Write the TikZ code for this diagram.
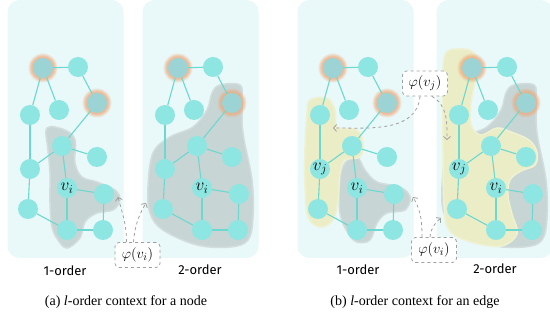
\documentclass[tikz,border=0pt]{standalone}
\usepackage{fontspec}
\setmainfont{Liberation Serif}
\newfontfamily\orderfont{Fira Sans}
\usetikzlibrary{arrows.meta}

\definecolor{panelbg}{HTML}{E9F8F8}
\definecolor{nodec}{HTML}{8DE6E1}
\definecolor{linkc}{HTML}{6BD9CF}
\definecolor{startc}{HTML}{9CD4D5}
\definecolor{haloc}{HTML}{F0A878}
\definecolor{blobgray}{HTML}{C8D5D5}
\definecolor{blobyel}{HTML}{EBEDC6}
\definecolor{dashc}{HTML}{A0A0A0}

\tikzset{
  vert/.style={circle, fill=nodec, minimum size=20pt, inner sep=0pt},
  link/.style={draw=linkc, line width=1.1pt},
  greyblob/.style={fill=blobgray, draw=blobgray!80!white, line width=1.5pt},
  yelblob/.style={fill=blobyel, draw=blobyel!80!white, line width=1.5pt},
  phibox/.style={draw=dashc, dashed, fill=white, rounded corners=4pt, line width=.8pt,
    minimum width=45pt, minimum height=25pt, inner sep=1pt, font=\fontsize{15}{18}\selectfont},
  dasharrow/.style={draw=dashc, dashed, line width=.8pt, -{Straight Barb[length=3pt,width=7pt]}},
  order/.style={font=\orderfont\fontsize{13}{15}\selectfont},
  caption/.style={font=\fontsize{14}{16}\selectfont}
}

% one copy of the graph, #1 = name prefix, #2 = text of the left node
\newcommand{\ctxgraph}[2]{%
  % glow round the two start nodes
  \foreach \r/\o in {14.5/.2,13.5/.25,12.5/.3,11.5/.35} {
    \fill[haloc, opacity=\o] (43,68) circle (\r pt);
    \fill[haloc, opacity=\o] (97,103) circle (\r pt);
  }
  \node[vert, fill=startc] (#1a) at (43,68) {};
  \node[vert] (#1b) at (78,67) {};
  \node[vert, fill=startc] (#1c) at (97,103) {};
  \node[vert] (#1d) at (30,115) {};
  \node[vert] (#1e) at (59,110) {};
  \node[vert] (#1f) at (62,146) {};
  \node[vert] (#1g) at (97,157) {};
  \node[vert, font=\fontsize{17}{18}\selectfont] (#1h) at (30,169) {#2};
  \node[vert, font=\fontsize{17}{18}\selectfont] (#1i) at (67,188) {$v_i$};
  \node[vert] (#1k) at (104,194) {};
  \node[vert] (#1l) at (28,209) {};
  \node[vert] (#1m) at (67,230) {};
  \node[vert] (#1n) at (103,230) {};
  \foreach \s/\t in {a/b,a/d,a/e,b/c,c/f,f/g,f/h,f/i,d/h,h/l,i/k,i/m,k/n,l/m,m/n}
    \draw[link] (#1\s) -- (#1\t);
}

\begin{document}
\begin{tikzpicture}[x=1pt, y=-1pt]
  \useasboundingbox (0,0) rectangle (550,323);

  %draw panels
  \foreach \dx in {0,135,290,429}
    \fill[panelbg, rounded corners=12pt] (\dx+7.5,0) rectangle (\dx+123.5,258);

  % (a) 1-order
  \begin{scope}
    \filldraw[greyblob] plot[smooth cycle, tension=.6] coordinates {(47,128) (65,130) (75,140)
      (75,163) (82,177) (97,182) (115,190) (120,200) (113,210) (97,213) (85,222) (80,238)
      (67,248) (58,240) (52,227) (50,203) (50,173) (48,150)};
    \ctxgraph{aa}{}
  \end{scope}

  % (a) 2-order
  \begin{scope}[xshift=135pt]
    \filldraw[greyblob] plot[smooth cycle, tension=.6] coordinates {(85,85) (105,85) (107,100)
      (108,133) (117,180) (118,217) (113,240) (95,247) (62,245) (28,230) (15,213) (13,187)
      (18,153) (35,137) (58,127) (72,110) (77,93)};
    \ctxgraph{ab}{}
  \end{scope}

  % (b) 1-order
  \begin{scope}[xshift=290pt]
    \filldraw[greyblob] plot[smooth cycle, tension=.6] coordinates {(55,163) (67,157) (75,170)
      (87,182) (110,187) (120,197) (115,210) (97,213) (87,223) (80,240) (67,242) (58,233)
      (50,213) (50,180)};
    \filldraw[yelblob] plot[smooth cycle, tension=.6] coordinates {(20,100) (37,98) (45,110)
      (47,127) (67,130) (73,143) (70,157) (55,160) (50,173) (48,200) (43,220) (30,227)
      (18,217) (15,187) (15,147) (17,113)};
    \ctxgraph{ba}{$v_j$}
  \end{scope}

  % (b) 2-order
  \begin{scope}[xshift=429pt]
    \filldraw[greyblob] plot[smooth cycle, tension=.6] coordinates {(85,85) (105,85) (107,100)
      (108,133) (117,180) (118,217) (113,240) (95,247) (62,245) (28,230) (15,213) (13,187)
      (18,153) (35,137) (58,127) (72,110) (77,93)};
    \filldraw[yelblob] plot[smooth cycle, tension=.6] coordinates {(16,55) (30,49) (44,52)
      (49,64) (46,82) (42,102) (42,125) (52,135) (68,128) (82,132) (100,140) (108,152)
      (106,165) (92,171) (81,180) (79,196) (83,214) (88,234) (72,246) (42,242) (20,230)
      (15,205) (14,150) (14,90)};
    \ctxgraph{bb}{$v_j$}
  \end{scope}

  %draw order labels
  \node[order] (lab1) at (65,271) {1-order};
  \node[order] (lab2) at (200,270) {2-order};
  \node[order] (lab3) at (358,270) {1-order};
  \node[order] (lab4) at (495,269) {2-order};

  %draw captions
  \node[caption] (capa) at (126,302) {(a) \textit{l}-order context for a node};
  \node[caption] (capb) at (415,302) {(b) \textit{l}-order context for an edge};

  % embedding boxes and where they point
  \node[phibox] (phiA) at (137.5,255) {$\varphi(v_i)$};
  \node[phibox] (phiJ) at (425,83.5) {$\varphi(v_j)$};
  \node[phibox] (phiI) at (434,250) {$\varphi(v_i)$};

  \coordinate (tA1) at (118,197);
  \coordinate (tA2) at (146,203);
  \coordinate (tJ1) at (333,128);
  \coordinate (tJ2) at (447,140);
  \coordinate (tI1) at (413,197);
  \coordinate (tI2) at (441,218);

  \draw[dasharrow] ([xshift=-11pt]phiA.north) to[out=90,in=-75] (tA1);
  \draw[dasharrow] ([xshift=-4pt]phiA.north) to[out=85,in=-120] (tA2);
  \draw[dasharrow] ([xshift=-5pt]phiJ.south) to[out=-95,in=0] (tJ1);
  \draw[dasharrow] ([xshift=7pt]phiJ.south) to[out=-30,in=90] (tJ2);
  \draw[dasharrow] ([xshift=-12pt]phiI.north) to[out=90,in=-60] (tI1);
  \draw[dasharrow] ([xshift=-4pt]phiI.north) to[out=85,in=-140] (tI2);
\end{tikzpicture}
\end{document}
